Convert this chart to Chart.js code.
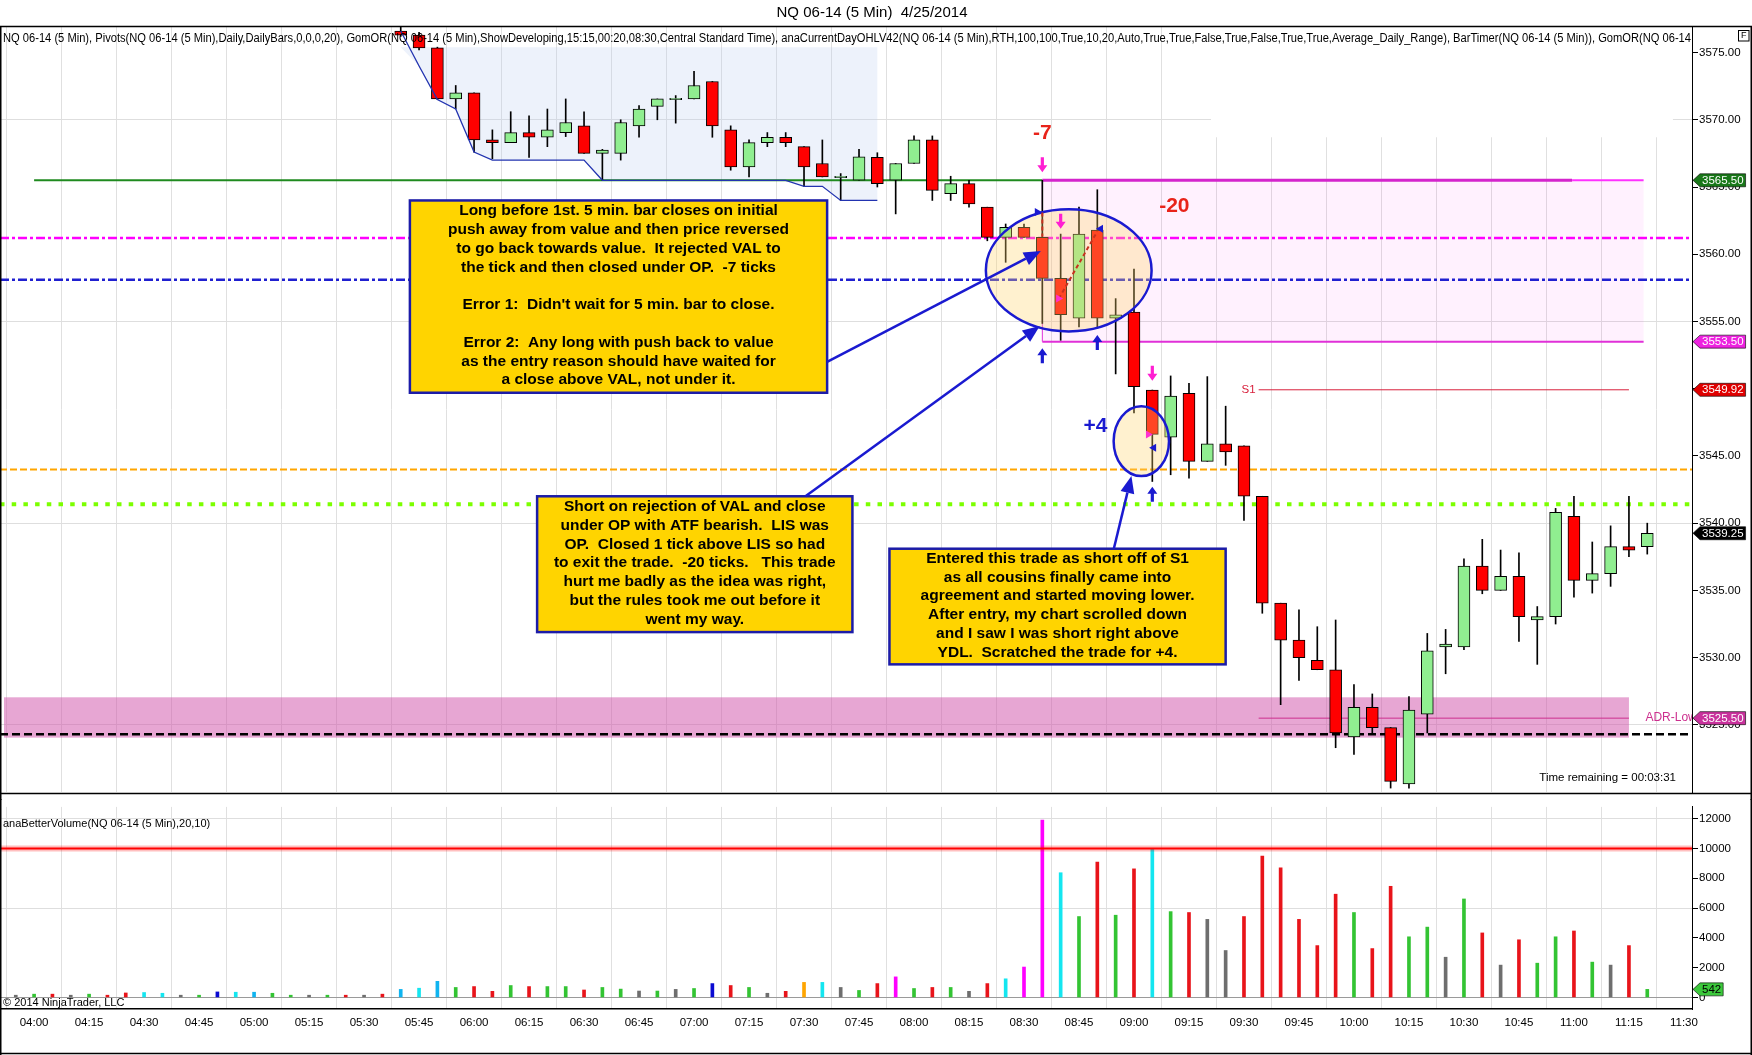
<!DOCTYPE html>
<html>
<head>
<meta charset="UTF-8">
<title>NQ 06-14 (5 Min) 4/25/2014</title>
<script src="https://cdn.jsdelivr.net/npm/chart.js"></script>
<style>
  body { margin: 0; background: #fff; }
  #wrap { position: relative; width: 1752px; height: 1055px; overflow: hidden; background: #fff; }
  #priceChart { position: absolute; left: 0; top: 0; }
  #volChart { position: absolute; left: 0; top: 799px; }
</style>
</head>
<body>
<div id="wrap">
  <canvas id="priceChart" width="1752" height="800"></canvas>
  <canvas id="volChart" width="1752" height="256"></canvas>
</div>
<script>
// ---- data ----
var barTimes = ['03:55',
  '04:00','04:05','04:10','04:15','04:20','04:25','04:30','04:35','04:40','04:45','04:50','04:55',
  '05:00','05:05','05:10','05:15','05:20','05:25','05:30','05:35','05:40','05:45','05:50','05:55',
  '06:00','06:05','06:10','06:15','06:20','06:25','06:30','06:35','06:40','06:45','06:50','06:55',
  '07:00','07:05','07:10','07:15','07:20','07:25','07:30','07:35','07:40','07:45','07:50','07:55',
  '08:00','08:05','08:10','08:15','08:20','08:25','08:30','08:35','08:40','08:45','08:50','08:55',
  '09:00','09:05','09:10','09:15','09:20','09:25','09:30','09:35','09:40','09:45','09:50','09:55',
  '10:00','10:05','10:10','10:15','10:20','10:25','10:30','10:35','10:40','10:45','10:50','10:55',
  '11:00','11:05','11:10','11:15','11:20'];

var volume = [150,
  220, 220, 150, 220, 150, 300, 330, 280, 150, 150, 370, 350,
  350, 280, 150, 150, 150, 150, 150, 220, 540, 620, 1080, 670,
  730, 410, 800, 730, 730, 730, 500, 670, 560, 430, 430, 540,
  600, 930, 800, 670, 280, 410, 1010, 1010, 670, 470, 930, 1380,
  600, 670, 670, 410, 930, 1250, 2040, 11900, 8370, 5430, 9090, 5520,
  8630, 9950, 5760, 5700, 5240, 3150, 5430, 9480, 8700, 5240, 3480, 6930,
  5700, 3280, 7460, 4070, 4720, 2700, 6610, 4330, 2170, 3870, 2300, 4070,
  4460, 2370, 2170, 3480, 542];

// volume bar class: g up, r down, k neutral, c/s climax, b/o churn, m low-volume churn
var volKind = ['k',
  'g','r','k','g','r','r','c','c','k','g','b','c',
  's','g','g','k','g','r','k','r','s','c','s','g',
  'r','r','g','r','g','g','r','g','g','k','g','k',
  'g','b','r','g','k','r','o','c','k','g','r','m',
  'g','r','g','k','r','c','m','m','c','g','r','g',
  'r','c','g','r','k','k','r','r','r','r','r','r',
  'g','r','r','g','g','k','g','r','k','r','g','g',
  'r','g','k','r','g'];

var candleTimes = barTimes.slice(barTimes.indexOf('05:40'));
var opens = [3576.6, 3576.3, 3575.35, 3571.55,
  3572.0, 3568.5, 3568.3, 3569.05, 3568.7, 3569.05, 3569.55, 3567.5, 3567.5, 3569.55, 3571.0, 3571.5,
  3571.55, 3572.85, 3569.25, 3566.5, 3568.3, 3568.7, 3568.0, 3566.75, 3565.7, 3565.5, 3567.2, 3565.5,
  3566.75, 3568.5, 3564.5, 3565.25, 3563.5, 3561.25, 3562.0, 3561.25, 3558.2, 3555.25, 3561.8, 3555.25,
  3555.7, 3549.9, 3546.4, 3549.65, 3544.6, 3545.9, 3545.75, 3542.0, 3534.05, 3531.3, 3529.8, 3529.1,
  3524.1, 3526.3, 3524.8, 3520.6, 3525.8, 3530.8, 3530.8, 3536.8, 3535.0, 3536.05, 3532.8, 3533.05,
  3540.5, 3535.75, 3536.25, 3538.25, 3538.25];
var highs = [3576.9, 3576.5, 3575.4, 3572.55,
  3572.0, 3569.25, 3570.6, 3570.3, 3570.8, 3571.55, 3570.6, 3567.8, 3570.0, 3571.05, 3571.55, 3571.8,
  3573.6, 3572.85, 3569.55, 3568.5, 3569.05, 3569.05, 3568.0, 3568.5, 3566.0, 3567.8, 3567.55, 3566.75,
  3568.8, 3568.8, 3565.8, 3565.5, 3563.5, 3562.25, 3562.25, 3565.5, 3561.5, 3563.5, 3564.8, 3556.7,
  3558.9, 3549.9, 3550.95, 3550.4, 3550.9, 3548.7, 3545.75, 3542.0, 3534.05, 3533.55, 3532.3, 3532.8,
  3528.0, 3527.3, 3524.8, 3527.1, 3531.8, 3532.1, 3537.35, 3538.8, 3538.0, 3537.8, 3533.8, 3541.1,
  3542.0, 3538.6, 3539.8, 3542.0, 3540.0];
var lows = [3576.2, 3575.2, 3571.5, 3570.8,
  3567.6, 3567.1, 3568.3, 3567.2, 3568.0, 3568.75, 3567.5, 3565.5, 3567.0, 3568.7, 3570.0, 3569.75,
  3571.55, 3568.7, 3566.25, 3565.75, 3568.0, 3568.0, 3565.05, 3565.75, 3564.0, 3565.5, 3565.0, 3563.0,
  3566.75, 3564.0, 3564.0, 3563.5, 3561.0, 3559.4, 3561.25, 3554.85, 3553.6, 3554.6, 3554.5, 3551.1,
  3548.2, 3543.1, 3543.6, 3543.35, 3544.6, 3544.3, 3540.2, 3533.3, 3526.5, 3528.3, 3529.1, 3523.3,
  3522.8, 3524.4, 3520.3, 3520.3, 3524.4, 3528.8, 3530.6, 3534.75, 3535.0, 3531.2, 3529.5, 3532.5,
  3534.5, 3534.8, 3535.3, 3537.5, 3537.7];
var closes = [3576.3, 3575.35, 3571.55, 3572.0,
  3568.5, 3568.3, 3569.05, 3568.7, 3569.25, 3569.8, 3567.5, 3567.75, 3569.8, 3570.8, 3571.55, 3571.6,
  3572.55, 3569.55, 3566.5, 3568.3, 3568.7, 3568.3, 3566.5, 3565.75, 3565.8, 3567.25, 3565.25, 3566.75,
  3568.5, 3564.75, 3565.25, 3563.75, 3561.25, 3562.0, 3561.25, 3558.2, 3555.5, 3561.5, 3555.25, 3555.5,
  3550.15, 3546.6, 3549.45, 3544.6, 3545.9, 3545.3, 3542.0, 3534.05, 3531.3, 3530.0, 3529.1, 3524.4,
  3526.3, 3524.8, 3520.8, 3526.1, 3530.5, 3531.0, 3536.8, 3535.0, 3536.05, 3533.05, 3533.05, 3540.8,
  3535.75, 3536.25, 3538.25, 3538.0, 3539.25];

// GomOR developing low, 05:40 .. 07:50
var gomTimes = candleTimes.slice(0, 27);
var gomLow = [3576.6, 3574.0, 3571.5, 3570.8, 3567.6, 3567.0, 3567.0, 3567.0, 3567.0, 3567.0, 3567.0,
  3565.5, 3565.5, 3565.5, 3565.5, 3565.5, 3565.5, 3565.5, 3565.5, 3565.5, 3565.5, 3565.5,
  3565.05, 3565.05, 3564.0, 3564.0, 3564.0];
var orHigh = 3575.4;

// levels
var openLevel = 3565.5;     // OP
var vaHigh = 3561.2;
var vaLow = 3558.1;
var stopLevel = 3553.5;
var s1Level = 3549.92;
var ydlLevel = 3544.0;
var valueLine = 3541.4;
var adrLow = 3525.5;
var adrBandTop = 3527.05;
var adrBandBottom = 3524.05;
var yLowLine = 3524.3;
var lastPrice = 3539.25;
var lastVolume = 542;
var volAlert = 10000;

var timeTicks = ['04:00','04:15','04:30','04:45','05:00','05:15','05:30','05:45','06:00','06:15',
  '06:30','06:45','07:00','07:15','07:30','07:45','08:00','08:15','08:30','08:45','09:00','09:15',
  '09:30','09:45','10:00','10:15','10:30','10:45','11:00','11:15','11:30'];
var priceTicks = [3525, 3530, 3535, 3540, 3545, 3550, 3555, 3560, 3565, 3570, 3575];
var volTicks = [0, 2000, 4000, 6000, 8000, 10000, 12000];

var note1 = ['Long before 1st. 5 min. bar closes on initial',
  'push away from value and then price reversed',
  'to go back towards value.  It rejected VAL to',
  'the tick and then closed under OP.  -7 ticks',
  '',
  "Error 1:  Didn't wait for 5 min. bar to close.",
  '',
  'Error 2:  Any long with push back to value',
  'as the entry reason should have waited for',
  'a close above VAL, not under it.'];
var note2 = ['Short on rejection of VAL and close',
  'under OP with ATF bearish.  LIS was',
  'OP.  Closed 1 tick above LIS so had',
  'to exit the trade.  -20 ticks.   This trade',
  'hurt me badly as the idea was right,',
  'but the rules took me out before it',
  'went my way.'];
var note3 = ['Entered this trade as short off of S1',
  'as all cousins finally came into',
  'agreement and started moving lower.',
  'After entry, my chart scrolled down',
  'and I saw I was short right above',
  'YDL.  Scratched the trade for +4.'];

var headerText = 'NQ 06-14 (5 Min), Pivots(NQ 06-14 (5 Min),Daily,DailyBars,0,0,0,20), GomOR(NQ 06-14 (5 Min),ShowDeveloping,15:15,00:20,08:30,Central Standard Time), anaCurrentDayOHLV42(NQ 06-14 (5 Min),RTH,100,100,True,10,20,Auto,True,True,False,True,False,True,True,Average_Daily_Range), BarTimer(NQ 06-14 (5 Min)), GomOR(NQ 06-14';

// ---- helpers ----
function tm(s) { var p = s.split(':'); return (+p[0]) * 60 + parseFloat(p[1]); }
var xMin = 230.7, xMax = 692.2;
var FONT = '"Liberation Sans", Arial, sans-serif';
var kindColor = { g: '#33c433', r: '#e8141a', k: '#6e6e6e', c: '#14e6f0', s: '#10b4f0', b: '#0a0ad2', o: '#ffa500', m: '#ff00ff' };

function hline(ctx, y, x0, x1, color, width, dash) {
  ctx.save();
  ctx.strokeStyle = color; ctx.lineWidth = width; ctx.setLineDash(dash || []);
  ctx.beginPath(); ctx.moveTo(x0, y); ctx.lineTo(x1, y); ctx.stroke();
  ctx.restore();
}
function arrow(ctx, x1, y1, x2, y2, color) {
  var a = Math.atan2(y2 - y1, x2 - x1), hl = 17, hw = 7;
  var bx = x2 - hl * Math.cos(a), by = y2 - hl * Math.sin(a);
  ctx.save();
  ctx.strokeStyle = color; ctx.fillStyle = color; ctx.lineWidth = 2.5;
  ctx.beginPath(); ctx.moveTo(x1, y1); ctx.lineTo(bx, by); ctx.stroke();
  ctx.beginPath(); ctx.moveTo(x2, y2);
  ctx.lineTo(bx + hw * Math.sin(a), by - hw * Math.cos(a));
  ctx.lineTo(bx - hw * Math.sin(a), by + hw * Math.cos(a));
  ctx.closePath(); ctx.fill();
  ctx.restore();
}
function fatArrow(ctx, x, yTip, dir, color) {
  var L = 15, hl = 7, hw = 5, sw = 1.6;
  ctx.save(); ctx.fillStyle = color; ctx.beginPath();
  ctx.moveTo(x, yTip);
  ctx.lineTo(x - hw, yTip - dir * hl); ctx.lineTo(x - sw, yTip - dir * hl);
  ctx.lineTo(x - sw, yTip - dir * L); ctx.lineTo(x + sw, yTip - dir * L);
  ctx.lineTo(x + sw, yTip - dir * hl); ctx.lineTo(x + hw, yTip - dir * hl);
  ctx.closePath(); ctx.fill(); ctx.restore();
}
function tri(ctx, x, y, dir, color) {
  ctx.save(); ctx.fillStyle = color; ctx.beginPath();
  ctx.moveTo(x + dir * 5, y); ctx.lineTo(x - dir * 2, y - 4); ctx.lineTo(x - dir * 2, y + 4);
  ctx.closePath(); ctx.fill(); ctx.restore();
}
function noteBox(ctx, x0, x1, y0, y1, lines) {
  ctx.save();
  ctx.fillStyle = '#ffd400'; ctx.fillRect(x0, y0, x1 - x0, y1 - y0);
  ctx.strokeStyle = '#1c1ca8'; ctx.lineWidth = 2.5; ctx.strokeRect(x0, y0, x1 - x0, y1 - y0);
  ctx.fillStyle = '#000'; ctx.font = 'bold 15.5px ' + FONT;
  ctx.textAlign = 'center'; ctx.textBaseline = 'middle';
  var lh = 18.8, top = y0 + ((y1 - y0) - lines.length * lh) / 2 + lh / 2 - 1;
  lines.forEach(function (l, i) { ctx.fillText(l, (x0 + x1) / 2, top + i * lh); });
  ctx.restore();
}
function axisTag(ctx, x0, y, text, fill, textColor) {
  ctx.save();
  ctx.font = '11.5px ' + FONT;
  var h = 13, w = ctx.measureText(text).width + 4;
  ctx.fillStyle = fill; ctx.beginPath();
  ctx.moveTo(x0 + 1, y); ctx.lineTo(x0 + 8, y - h / 2); ctx.lineTo(x0 + 8 + w, y - h / 2);
  ctx.lineTo(x0 + 8 + w, y + h / 2); ctx.lineTo(x0 + 8, y + h / 2); ctx.closePath(); ctx.fill();
  ctx.strokeStyle = 'rgba(0,0,0,0.6)'; ctx.lineWidth = 1; ctx.stroke();
  ctx.fillStyle = textColor; ctx.textAlign = 'center'; ctx.textBaseline = 'middle';
  ctx.fillText(text, x0 + 8 + w / 2, y + 0.5);
  ctx.restore();
}

// ---- price panel ----
var pricePlugin = {
  id: 'priceDecor',
  beforeDatasetsDraw: function (chart) {
    var ctx = chart.ctx, a = chart.chartArea, X = function (t) { return chart.scales.x.getPixelForValue(tm(t)); },
      Y = function (v) { return chart.scales.y.getPixelForValue(v); };
    ctx.save();
    ctx.beginPath(); ctx.rect(a.left, a.top, a.right - a.left, a.bottom - a.top); ctx.clip();
    // area without grid at the top right
    ctx.fillStyle = '#fff'; ctx.fillRect(X('09:21'), a.top, X('11:27') - X('09:21'), Y(3568.7) - a.top);
    // opening range shading
    ctx.fillStyle = 'rgba(190,210,240,0.28)';
    ctx.beginPath(); ctx.moveTo(X(gomTimes[0]), Y(orHigh));
    gomTimes.forEach(function (t, i) { ctx.lineTo(X(t), Y(Math.min(gomLow[i], orHigh))); });
    ctx.lineTo(X(gomTimes[gomTimes.length - 1]), Y(orHigh)); ctx.closePath(); ctx.fill();
    // trade risk box
    ctx.fillStyle = 'rgba(255,0,230,0.055)';
    ctx.fillRect(X('08:35'), Y(openLevel), X('11:19') - X('08:35'), Y(stopLevel) - Y(openLevel));
    // ADR band
    ctx.fillStyle = 'rgba(208,78,168,0.5)';
    ctx.fillRect(a.left + 4, Y(adrBandTop), X('11:15') - a.left - 4, Y(adrBandBottom) - Y(adrBandTop));
    // horizontal level lines
    hline(ctx, Y(vaHigh), a.left, a.right, '#ff00ff', 2.5, [9, 3, 3, 3]);
    hline(ctx, Y(vaLow), a.left, a.right, '#2020d0', 2.5, [9, 3, 3, 3]);
    hline(ctx, Y(ydlLevel), a.left, a.right, '#ffa500', 2, [7, 3]);
    hline(ctx, Y(valueLine), a.left, a.right, '#7cff00', 4, [4.5, 7.2]);
    hline(ctx, Y(yLowLine), a.left, a.right, '#000', 2.5, [8, 4]);
    hline(ctx, Y(openLevel), X('04:00'), X('08:35'), '#1f8a1f', 2);
    hline(ctx, Y(openLevel), X('08:35'), X('10:59.5'), '#d424cc', 3);
    hline(ctx, Y(openLevel), X('10:59.5'), X('11:19'), '#ff30ff', 2);
    hline(ctx, Y(stopLevel), X('08:35'), X('11:19'), '#e030d8', 2);
    ctx.strokeStyle = '#e030d8'; ctx.lineWidth = 1;
    ctx.beginPath(); ctx.moveTo(X('08:35'), Y(openLevel)); ctx.lineTo(X('08:35'), Y(stopLevel)); ctx.stroke();
    hline(ctx, Y(s1Level), X('09:34'), X('11:15'), '#d8203c', 1);
    hline(ctx, Y(adrLow), X('09:34'), X('11:15'), '#cc2f8e', 1);
    ctx.restore();
  },
  afterDatasetsDraw: function (chart) {
    var ctx = chart.ctx, a = chart.chartArea, sx = chart.scales.x, sy = chart.scales.y,
      X = function (t) { return sx.getPixelForValue(tm(t)); }, Y = function (v) { return sy.getPixelForValue(v); };
    ctx.save();
    ctx.beginPath(); ctx.rect(a.left, a.top, a.right - a.left, a.bottom - a.top); ctx.clip();
    // ellipses
    [['08:42.2', 3558.8, 22.6, 4.54], ['09:02', 3546.1, 7.55, 2.6]].forEach(function (e) {
      var cx = X(e[0]), cy = Y(e[1]), rx = sx.getPixelForValue(tm(e[0]) + e[2]) - cx, ry = Y(e[1] - e[3]) - cy;
      ctx.beginPath(); ctx.ellipse(cx, cy, rx, ry, 0, 0, Math.PI * 2);
      ctx.fillStyle = 'rgba(255,214,110,0.33)'; ctx.fill();
      ctx.strokeStyle = '#1a1ad0'; ctx.lineWidth = 2.5; ctx.stroke();
    });
    // trade lines and markers
    ctx.save(); ctx.strokeStyle = '#c8301e'; ctx.lineWidth = 2; ctx.setLineDash([4, 3]);
    ctx.beginPath(); ctx.moveTo(X('08:39.5'), Y(3556.7)); ctx.lineTo(X('08:50'), Y(3561.7)); ctx.stroke();
    ctx.beginPath(); ctx.moveTo(X('08:35'), Y(3563.1)); ctx.lineTo(X('08:35'), Y(3561.3)); ctx.stroke();
    ctx.restore();
    tri(ctx, X('08:33.5'), Y(3563.15), 1, '#1a1ad0');
    tri(ctx, X('08:51'), Y(3561.9), -1, '#1a1ad0');
    tri(ctx, X('08:39.3'), Y(3556.7), 1, '#ff30d0');
    tri(ctx, X('09:03.8'), Y(3546.6), 1, '#ff30d0');
    tri(ctx, X('09:05.5'), Y(3545.6), -1, '#1a1ad0');
    fatArrow(ctx, X('08:35'), Y(3566.1), 1, '#ff1fd2');
    fatArrow(ctx, X('08:40'), Y(3561.9), 1, '#ff1fd2');
    fatArrow(ctx, X('09:05'), Y(3550.6), 1, '#ff1fd2');
    fatArrow(ctx, X('08:35'), Y(3553.0), -1, '#1a1ad0');
    fatArrow(ctx, X('08:50'), Y(3554.0), -1, '#1a1ad0');
    fatArrow(ctx, X('09:05'), Y(3542.7), -1, '#1a1ad0');
    // trade results
    ctx.font = 'bold 21px ' + FONT; ctx.textAlign = 'center'; ctx.textBaseline = 'middle';
    ctx.fillStyle = '#e8231a'; ctx.fillText('-7', X('08:35'), Y(3569.0));
    ctx.fillText('-20', X('09:11'), Y(3563.6));
    ctx.fillStyle = '#1a1ad0'; ctx.fillText('+4', X('08:49.5'), Y(3547.2));
    // labels of pivot lines
    ctx.font = '11.5px ' + FONT; ctx.textBaseline = 'middle';
    ctx.textAlign = 'right'; ctx.fillStyle = '#d8203c'; ctx.fillText('S1', X('09:34') - 3, Y(s1Level));
    ctx.textAlign = 'left'; ctx.fillStyle = '#cc2f8e'; ctx.font = '12px ' + FONT;
    ctx.fillText('ADR-Low', X('11:19.5'), Y(adrLow));
    // notes with arrows
    noteBox(ctx, X('05:42.5'), X('07:36.3'), Y(3564.0), Y(3549.7), note1);
    noteBox(ctx, X('06:17.2'), X('07:43.2'), Y(3542.0), Y(3531.9), note2);
    noteBox(ctx, X('07:53.3'), X('09:25'), Y(3538.1), Y(3529.5), note3);
    arrow(ctx, X('07:36.3'), Y(3552.0), X('08:34.6'), Y(3560.25), '#1a1ad0');
    arrow(ctx, X('07:30.4'), Y(3542.0), X('08:34.3'), Y(3554.66), '#1a1ad0');
    arrow(ctx, X('08:54.5'), Y(3538.1), X('08:59.3'), Y(3543.5), '#1a1ad0');
    // header and bar timer
    ctx.fillStyle = '#000'; ctx.font = '12px ' + FONT; ctx.textAlign = 'left';
    ctx.fillText(headerText, a.left + 3, a.top + 12, a.right - a.left - 4);
    ctx.font = '11.5px ' + FONT;
    ctx.textAlign = 'right'; ctx.fillText('Time remaining = 00:03:31', a.right - 16, a.bottom - 14);
    ctx.restore();
  },
  afterDraw: function (chart) {
    var ctx = chart.ctx, a = chart.chartArea, sy = chart.scales.y, W = chart.width;
    ctx.save();
    ctx.fillStyle = '#000'; ctx.font = '15px ' + FONT; ctx.textAlign = 'center'; ctx.textBaseline = 'middle';
    ctx.fillText('NQ 06-14 (5 Min)  4/25/2014', W / 2 - 4, 13);
    ctx.strokeStyle = '#000'; ctx.lineWidth = 1.5;
    ctx.beginPath();
    ctx.moveTo(0, a.top - 0.5); ctx.lineTo(W, a.top - 0.5);
    ctx.moveTo(0.75, a.top); ctx.lineTo(0.75, chart.height);
    ctx.moveTo(W - 0.75, a.top); ctx.lineTo(W - 0.75, chart.height);
    ctx.moveTo(0, a.bottom + 1.5); ctx.lineTo(W, a.bottom + 1.5);
    ctx.stroke();
    // F button
    ctx.lineWidth = 1; ctx.strokeRect(W - 13.5, a.top + 3.5, 10.5, 10.5);
    ctx.font = '9px ' + FONT; ctx.fillText('F', W - 8.2, a.top + 9);
    axisTag(ctx, a.right, sy.getPixelForValue(openLevel), openLevel.toFixed(2), '#1a781a', '#fff');
    axisTag(ctx, a.right, sy.getPixelForValue(stopLevel), stopLevel.toFixed(2), '#ee22e0', '#fff');
    axisTag(ctx, a.right, sy.getPixelForValue(s1Level), s1Level.toFixed(2), '#e00000', '#fff');
    axisTag(ctx, a.right, sy.getPixelForValue(lastPrice), lastPrice.toFixed(2), '#000', '#fff');
    axisTag(ctx, a.right, sy.getPixelForValue(adrLow), adrLow.toFixed(2), '#c8329c', '#fff');
    ctx.restore();
  }
};

var candleX = candleTimes.map(tm);
new Chart(document.getElementById('priceChart'), {
  type: 'bar',
  data: {
    datasets: [
      {
        type: 'line', label: 'GomOR low', order: 0,
        data: gomTimes.map(function (t, i) { return { x: tm(t), y: gomLow[i] }; }),
        borderColor: '#2233b0', borderWidth: 1.3, pointRadius: 0, tension: 0, fill: false
      },
      {
        label: 'body', order: 1, grouped: false, barThickness: 12,
        data: candleX.map(function (x, i) { return { x: x, y: [opens[i], closes[i]] }; }),
        backgroundColor: candleX.map(function (x, i) { return closes[i] >= opens[i] ? '#90ee90' : '#ff0000'; }),
        borderColor: '#000', borderWidth: 1, borderSkipped: false
      },
      {
        label: 'wick', order: 2, grouped: false, barThickness: 1,
        data: candleX.map(function (x, i) { return { x: x, y: [lows[i], highs[i]] }; }),
        backgroundColor: '#000', borderWidth: 0
      }
    ]
  },
  options: {
    responsive: false, animation: false,
    layout: { padding: { top: 27, bottom: 3, left: 0, right: 0 } },
    plugins: { legend: { display: false }, tooltip: { enabled: false } },
    scales: {
      x: {
        type: 'linear', min: xMin, max: xMax, offset: false,
        afterBuildTicks: function (s) { s.ticks = timeTicks.map(function (t) { return { value: tm(t) }; }); },
        afterFit: function (s) { s.height = 0; },
        ticks: { display: false },
        grid: { color: '#e0e0e0', drawTicks: false },
        border: { display: false }
      },
      y: {
        position: 'right', min: 3520, max: 3576.9,
        afterBuildTicks: function (s) { s.ticks = priceTicks.map(function (v) { return { value: v }; }); },
        afterFit: function (s) { s.width = 60; },
        ticks: { callback: function (v) { return v.toFixed(2); }, color: '#000', font: { family: FONT, size: 11.5 }, padding: 1 },
        grid: {
          color: function (c) { return c.tick && c.tick.value % 15 === 0 ? '#dedede' : 'rgba(0,0,0,0)'; },
          tickColor: '#000', tickLength: 6
        },
        border: { display: true, color: '#000' }
      }
    }
  },
  plugins: [pricePlugin]
});

// ---- volume panel ----
var volPlugin = {
  id: 'volDecor',
  afterDatasetsDraw: function (chart) {
    var ctx = chart.ctx, a = chart.chartArea, sy = chart.scales.y;
    var y = sy.getPixelForValue(volAlert);
    ctx.save();
    hline(ctx, y, a.left, a.right, 'rgba(255,0,0,0.25)', 6);
    hline(ctx, y, a.left, a.right, '#ff0000', 2);
    ctx.fillStyle = '#000'; ctx.font = '11px ' + FONT; ctx.textAlign = 'left'; ctx.textBaseline = 'middle';
    ctx.fillText('anaBetterVolume(NQ 06-14 (5 Min),20,10)', a.left + 3, a.top + 17);
    ctx.fillText('\u00a9 2014 NinjaTrader, LLC', a.left + 3, a.bottom - 6);
    ctx.restore();
  },
  afterDraw: function (chart) {
    var ctx = chart.ctx, a = chart.chartArea, sy = chart.scales.y, W = chart.width, H = chart.height;
    ctx.save();
    ctx.strokeStyle = '#000'; ctx.lineWidth = 1.5;
    ctx.beginPath();
    ctx.moveTo(0.75, 0); ctx.lineTo(0.75, H);
    ctx.moveTo(W - 0.75, 0); ctx.lineTo(W - 0.75, H);
    ctx.moveTo(0, H - 1.5); ctx.lineTo(W, H - 1.5);
    ctx.stroke();
    axisTag(ctx, a.right, sy.getPixelForValue(lastVolume), String(lastVolume), '#3cc83c', '#000');
    ctx.restore();
  }
};

new Chart(document.getElementById('volChart'), {
  type: 'bar',
  data: {
    datasets: [{
      label: 'volume', grouped: false, barThickness: 3,
      data: barTimes.map(function (t, i) { return { x: tm(t), y: volume[i] }; }),
      backgroundColor: volKind.map(function (k) { return kindColor[k]; }),
      borderWidth: 0
    }]
  },
  options: {
    responsive: false, animation: false,
    layout: { padding: { top: 1, bottom: 0, left: 0, right: 0 } },
    plugins: { legend: { display: false }, tooltip: { enabled: false } },
    scales: {
      x: {
        type: 'linear', min: xMin, max: xMax, offset: false,
        afterBuildTicks: function (s) { s.ticks = timeTicks.map(function (t) { return { value: tm(t) }; }); },
        afterFit: function (s) { s.height = 46; },
        ticks: {
          callback: function (v, i) { return timeTicks[i]; }, color: '#000', maxRotation: 0, autoSkip: false,
          font: { family: FONT, size: 11.5 }, padding: 7
        },
        grid: { color: '#e0e0e0', drawTicks: false },
        border: { display: true, color: '#000', width: 1.5 }
      },
      y: {
        position: 'right', min: -776, max: 12789,
        afterBuildTicks: function (s) { s.ticks = volTicks.map(function (v) { return { value: v }; }); },
        afterFit: function (s) { s.width = 60; },
        ticks: { color: '#000', font: { family: FONT, size: 11.5 }, padding: 1, callback: function (v) { return String(v); } },
        grid: {
          color: function (c) {
            if (!c.tick) return 'rgba(0,0,0,0)';
            if (c.tick.value === 0) return '#9a9a9a';
            return c.tick.value % 6000 === 0 ? '#dedede' : 'rgba(0,0,0,0)';
          },
          tickColor: '#000', tickLength: 6
        },
        border: { display: true, color: '#000' }
      }
    }
  },
  plugins: [volPlugin]
});
</script>
</body>
</html>
